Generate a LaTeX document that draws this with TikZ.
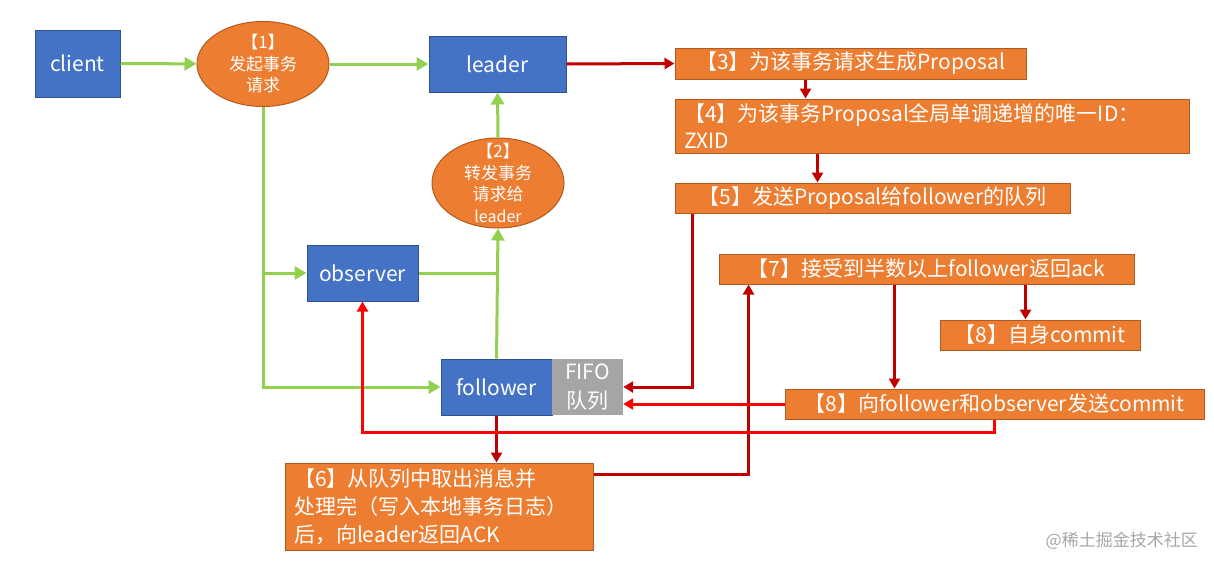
\documentclass[tikz,border=0pt]{standalone}
\usepackage{fontspec}
\setmainfont{Noto Sans CJK SC}
\usetikzlibrary{arrows.meta,positioning,shapes.geometric}
\definecolor{blueF}{HTML}{4472C4}
\definecolor{blueE}{HTML}{2F528F}
\definecolor{oraF}{HTML}{ED7D31}
\definecolor{oraE}{HTML}{AE5A21}
\definecolor{fifoF}{HTML}{A5A5A5}
\definecolor{greenL}{HTML}{92D050}
\definecolor{redD}{HTML}{C00000}
\definecolor{redB}{HTML}{FF0000}

\begin{document}
\begin{tikzpicture}[x=1pt,y=-1pt,
every node/.style={text=white,inner sep=0pt,font=\fontsize{21}{28}\selectfont},
blubox/.style={rectangle,draw=blueE,fill=blueF,line width=1pt},
orabox/.style={rectangle,draw=oraE,fill=oraF,line width=1pt},
oraell/.style={ellipse,draw=oraE,fill=oraF,line width=1pt},
elltext/.style={align=center,text=white,font=\fontsize{17}{21.5}\selectfont},
gline/.style={draw=greenL,line width=3pt},
garrow/.style={gline,-{Triangle[length=12pt,width=13pt]}},
darrow/.style={draw=redD,line width=3pt,-{Triangle[length=10pt,width=11pt]}},
rarrow/.style={draw=redB,line width=3pt,-{Triangle[length=10pt,width=11pt]}}]
\useasboundingbox (0,0) rectangle (1214,568);
% left side: client, leader, observer, follower
\node[blubox,minimum width=85pt,minimum height=67pt] (client) at (77.5,63.5) {client};
\node[oraell,minimum width=132pt,minimum height=85pt,
  label={[elltext]center:{【1】\\发起事务\\请求}}] (req1) at (263,64) {};
\node[blubox,minimum width=137pt,minimum height=56pt] (leader) at (497.5,64) {leader};
\node[oraell,minimum width=132pt,minimum height=90pt,
  label={[elltext]center:{【2】\\转发事务\\请求给\\{\fontsize{16}{21.5}\selectfont leader}}}] (req2) at (498,183) {};
\node[blubox,minimum width=111pt,minimum height=56pt] (observer) at (362.5,273) {observer};
\node[blubox,minimum width=111pt,minimum height=56pt] (follower) at (496.5,387) {follower};
\node[rectangle,fill=fifoF,minimum width=71pt,minimum height=56pt,align=center,
  font=\fontsize{21}{29}\selectfont] (fifo) at (587.5,387) {FIFO\\队列};
% right side: steps
\node[orabox,minimum width=351pt,minimum height=31pt] (prop3) at (850.5,63.5) {【3】为该事务请求生成Proposal};
\node[orabox,minimum width=514pt,minimum height=54pt,text width=496pt,align=left,
  font=\fontsize{21}{27}\selectfont] (prop4) at (932,126) {【4】为该事务Proposal全局单调递增的唯一ID：\\ZXID};
\node[orabox,minimum width=395pt,minimum height=30pt] (prop5) at (872.5,198) {【5】发送Proposal给follower的队列};
\node[orabox,minimum width=415pt,minimum height=30pt] (half7) at (926.5,269) {【7】接受到半数以上follower返回ack};
\node[orabox,minimum width=200pt,minimum height=30pt] (self8) at (1040,335) {【8】自身commit};
\node[orabox,minimum width=419pt,minimum height=30pt] (send8) at (994.5,404) {【8】向follower和observer发送commit};
\node[orabox,minimum width=308pt,minimum height=87pt,text width=290pt,align=left] (ack6) at (439,506.5)
  {【6】从队列中取出消息并\\处理完（写入本地事务日志）\\后，向leader返回ACK};
\node[text=black!35,font=\fontsize{17}{20}\selectfont,anchor=east] (mark) at (1198,541) {@稀土掘金技术社区};
% request path
\draw[garrow] (client) -- (req1);
\draw[garrow] (req1) -- (leader);
\draw[garrow] (req1.south) |- (follower.west);
\draw[garrow] (req1.south |- observer.west) -- (observer.west);
\draw[gline] (observer.east) -- (observer.east -| follower.north);
\draw[garrow] (follower.north) -- (req2.south);
\draw[garrow] (req2.north) -- (leader.south);
% proposal path
\draw[darrow] (leader.east) -- (prop3.west);
\draw[darrow] ([xshift=131pt]prop3.south west) -- ([xshift=131pt]prop4.north west);
\draw[darrow] ([xshift=143pt]prop4.south west) -- ([xshift=143pt]prop5.north west);
\draw[darrow] ([xshift=18pt]prop5.south west) |- (fifo.east);
\draw[darrow] (follower.south) -- (follower.south |- ack6.north);
\draw[darrow] ([yshift=-12pt]ack6.north east) -| ([xshift=30pt]half7.south west);
\draw[darrow] ([xshift=307pt]half7.south west) -- ([xshift=307pt]half7.south west |- self8.north);
\draw[darrow] ([xshift=176pt]half7.south west) -- ([xshift=176pt]half7.south west |- send8.north);
% commit path
\draw[rarrow] (send8.west) -- (send8.west -| fifo.east);
\draw[rarrow] (send8.south) -- ++(0,13) -| (observer.south);
\end{tikzpicture}
\end{document}
